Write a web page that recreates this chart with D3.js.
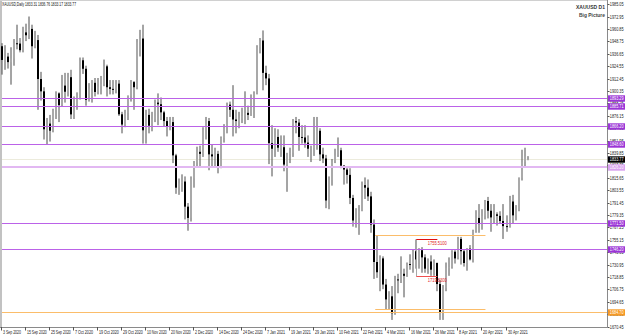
<!DOCTYPE html>
<html><head><meta charset="utf-8">
<script src="https://cdn.jsdelivr.net/npm/d3@7"></script>
<style>html,body{margin:0;padding:0;background:#fff;}svg{display:block;}</style>
</head><body>
<svg id="c" width="625" height="336"></svg>
<script>
const dates = ["2020-09-03","2020-09-04","2020-09-07","2020-09-08","2020-09-09","2020-09-10","2020-09-11","2020-09-14","2020-09-15","2020-09-16","2020-09-17","2020-09-18","2020-09-21","2020-09-22","2020-09-23","2020-09-24","2020-09-25","2020-09-28","2020-09-29","2020-09-30",
"2020-10-01","2020-10-02","2020-10-05","2020-10-06","2020-10-07","2020-10-08","2020-10-09","2020-10-12","2020-10-13","2020-10-14","2020-10-15","2020-10-16","2020-10-19","2020-10-20","2020-10-21","2020-10-22","2020-10-23","2020-10-26","2020-10-27","2020-10-28","2020-10-29","2020-10-30",
"2020-11-02","2020-11-03","2020-11-04","2020-11-05","2020-11-06","2020-11-09","2020-11-10","2020-11-11","2020-11-12","2020-11-13","2020-11-16","2020-11-17","2020-11-18","2020-11-19","2020-11-20","2020-11-23","2020-11-24","2020-11-25","2020-11-26","2020-11-27","2020-11-30",
"2020-12-01","2020-12-02","2020-12-03","2020-12-04","2020-12-07","2020-12-08","2020-12-09","2020-12-10","2020-12-11","2020-12-14","2020-12-15","2020-12-16","2020-12-17","2020-12-18","2020-12-21","2020-12-22","2020-12-23","2020-12-24","2020-12-28","2020-12-29","2020-12-30","2020-12-31",
"2021-01-04","2021-01-05","2021-01-06","2021-01-07","2021-01-08","2021-01-11","2021-01-12","2021-01-13","2021-01-14","2021-01-15","2021-01-18","2021-01-19","2021-01-20","2021-01-21","2021-01-22","2021-01-25","2021-01-26","2021-01-27","2021-01-28","2021-01-29",
"2021-02-01","2021-02-02","2021-02-03","2021-02-04","2021-02-05","2021-02-08","2021-02-09","2021-02-10","2021-02-11","2021-02-12","2021-02-15","2021-02-16","2021-02-17","2021-02-18","2021-02-19","2021-02-22","2021-02-23","2021-02-24","2021-02-25","2021-02-26",
"2021-03-01","2021-03-02","2021-03-03","2021-03-04","2021-03-05","2021-03-08","2021-03-09","2021-03-10","2021-03-11","2021-03-12","2021-03-15","2021-03-16","2021-03-17","2021-03-18","2021-03-19","2021-03-22","2021-03-23","2021-03-24","2021-03-25","2021-03-26","2021-03-29","2021-03-30","2021-03-31",
"2021-04-01","2021-04-05","2021-04-06","2021-04-07","2021-04-08","2021-04-09","2021-04-12","2021-04-13","2021-04-14","2021-04-15","2021-04-16","2021-04-19","2021-04-20","2021-04-21","2021-04-22","2021-04-23","2021-04-26","2021-04-27","2021-04-28","2021-04-29","2021-04-30",
"2021-05-03","2021-05-04","2021-05-05","2021-05-06","2021-05-07","2021-05-10","2021-05-11"];

const opens = [1944.0,1930.6,1933.9,1928.5,1931.9,1946.9,1946.6,1940.1,1957.5,1954.7,1960.9,1944.0,1950.0,1912.0,1900.0,1863.0,1868.5,1861.6,1881.7,1898.0,
1886.6,1905.6,1899.6,1913.8,1877.5,1886.5,1893.5,1930.3,1922.0,1891.6,1902.6,1908.3,1899.4,1904.7,1907.0,1924.4,1904.0,1902.4,1902.0,1907.5,1877.6,1867.6,
1878.8,1895.5,1909.0,1904.0,1948.0,1951.5,1862.0,1877.0,1866.5,1872.6,1889.0,1887.4,1879.5,1871.0,1866.0,1870.0,1837.5,1806.0,1810.5,1812.0,1787.5,
1776.5,1815.0,1830.5,1841.0,1839.0,1862.5,1871.0,1838.5,1836.5,1839.0,1827.0,1854.5,1864.0,1887.0,1882.0,1872.5,1871.0,1873.5,1876.0,1879.0,1877.0,1893.0,
1898.0,1943.0,1949.6,1918.0,1912.6,1849.5,1844.0,1855.5,1845.0,1845.5,1828.5,1839.5,1840.0,1871.0,1869.5,1855.5,1855.0,1850.0,1844.0,1844.5,
1847.5,1861.5,1838.5,1834.5,1793.5,1813.5,1831.5,1837.5,1842.5,1827.5,1823.7,1818.5,1796.0,1774.0,1776.0,1783.5,1808.5,1806.0,1797.5,1770.0,
1733.5,1723.5,1737.0,1711.5,1697.0,1700.0,1683.5,1716.5,1716.0,1722.0,1720.0,1731.5,1731.0,1744.0,1736.0,1745.0,1738.0,1727.0,1734.0,1726.0,1732.5,1712.0,1684.0,
1708.0,1728.0,1728.5,1743.5,1737.0,1756.0,1744.0,1732.5,1746.5,1736.0,1763.5,1776.5,1770.5,1778.5,1793.0,1783.5,1777.0,1780.0,1778.5,1773.5,1768.5,
1768.0,1792.5,1779.0,1784.0,1815.5,1831.0,1833.31];
const highs = [1947.0,1945.0,1937.5,1943.0,1951.0,1965.0,1952.0,1963.0,1966.0,1973.0,1965.0,1959.0,1955.0,1919.0,1904.0,1874.0,1877.0,1883.0,1900.0,1899.0,
1916.0,1918.0,1918.0,1921.0,1895.0,1899.0,1933.0,1933.0,1925.0,1908.0,1911.0,1913.0,1913.0,1915.0,1931.0,1926.0,1911.0,1911.0,1911.0,1911.0,1880.0,1882.0,
1896.0,1911.0,1910.0,1951.0,1960.0,1965.0,1882.0,1883.0,1880.0,1892.0,1898.0,1894.0,1881.0,1875.0,1875.0,1875.0,1839.0,1815.0,1819.0,1817.0,1791.0,
1817.0,1832.0,1846.0,1847.0,1865.0,1875.0,1874.0,1848.0,1845.0,1842.0,1856.0,1868.0,1889.0,1890.0,1906.0,1882.0,1880.0,1884.0,1900.0,1886.0,1897.0,1900.0,
1945.0,1952.0,1959.4,1925.0,1917.0,1867.0,1864.0,1863.0,1857.0,1857.0,1840.0,1845.0,1873.0,1875.0,1873.0,1867.0,1867.0,1857.0,1847.0,1875.0,
1875.0,1864.0,1845.0,1838.0,1817.0,1834.0,1844.0,1855.0,1845.0,1828.0,1826.0,1825.0,1799.0,1786.0,1789.0,1812.0,1816.0,1814.0,1802.0,1775.0,
1759.0,1740.0,1739.0,1717.0,1705.0,1710.0,1720.0,1722.0,1739.0,1727.0,1733.0,1741.0,1746.0,1755.5,1747.0,1748.0,1741.0,1737.0,1740.0,1736.0,1733.0,1716.0,1711.0,
1733.0,1738.0,1745.0,1745.0,1758.0,1758.0,1746.0,1747.0,1750.0,1765.0,1784.0,1790.0,1785.0,1794.0,1797.0,1790.0,1790.0,1782.0,1783.0,1790.0,1779.0,
1798.0,1799.0,1789.0,1816.0,1843.0,1845.0,1836.76];
const lows = [1916.3,1921.0,1922.2,1906.5,1925.0,1941.0,1938.0,1938.0,1949.0,1951.0,1932.0,1942.0,1882.0,1891.0,1853.0,1848.0,1851.0,1860.0,1873.0,1870.0,
1885.0,1889.0,1895.0,1873.0,1873.0,1882.0,1892.0,1917.0,1886.0,1890.0,1889.0,1895.0,1897.0,1897.0,1905.0,1895.0,1897.0,1897.0,1898.0,1876.0,1859.0,1865.0,
1872.0,1890.0,1882.0,1902.0,1934.0,1849.0,1849.0,1859.0,1861.0,1870.0,1867.0,1872.0,1866.0,1856.0,1862.0,1830.0,1800.0,1799.0,1802.0,1775.0,1764.0,
1773.0,1806.0,1826.0,1826.0,1836.0,1853.0,1823.0,1827.0,1826.0,1820.0,1825.0,1850.0,1859.0,1875.0,1856.0,1859.0,1864.0,1869.0,1868.0,1872.0,1876.0,1874.0,
1897.0,1937.0,1901.0,1906.0,1829.0,1817.0,1836.0,1841.0,1836.0,1822.0,1802.0,1830.0,1836.0,1859.0,1842.0,1849.0,1845.0,1836.0,1831.0,1837.0,
1843.0,1832.0,1830.0,1786.0,1785.0,1808.0,1830.0,1836.0,1825.0,1809.0,1810.0,1790.0,1768.0,1767.0,1760.0,1783.0,1795.0,1793.0,1762.0,1717.0,
1718.0,1705.0,1707.0,1687.0,1687.0,1677.0,1682.0,1703.0,1713.0,1699.0,1719.0,1726.0,1723.0,1727.0,1727.0,1723.0,1723.0,1722.0,1720.0,1720.0,1705.0,1677.0,1677.0,
1705.0,1720.0,1727.0,1732.0,1736.0,1731.0,1729.0,1725.0,1735.0,1733.0,1762.0,1762.0,1765.0,1775.0,1776.0,1763.0,1771.0,1769.0,1771.0,1756.0,1763.0,
1767.0,1771.0,1774.0,1783.0,1813.0,1826.0,1833.17];
const closes = [1930.6,1933.9,1928.5,1931.9,1946.9,1946.6,1940.1,1957.5,1954.7,1960.9,1944.0,1950.0,1912.0,1900.0,1863.0,1868.5,1861.6,1881.7,1898.0,1886.6,
1905.6,1899.6,1913.8,1877.5,1886.5,1893.5,1930.3,1922.0,1891.6,1902.6,1908.3,1899.4,1904.7,1907.0,1924.4,1904.0,1902.4,1902.0,1907.5,1877.6,1867.6,1878.8,
1895.5,1909.0,1904.0,1948.0,1951.5,1862.0,1877.0,1866.5,1872.6,1889.0,1887.4,1879.5,1871.0,1866.0,1870.0,1837.5,1806.0,1810.5,1812.0,1787.5,1776.5,
1815.0,1830.5,1841.0,1839.0,1862.5,1871.0,1838.5,1836.5,1839.0,1827.0,1854.5,1864.0,1887.0,1882.0,1872.5,1871.0,1873.5,1876.0,1879.0,1877.0,1893.0,1898.0,
1943.0,1949.6,1918.0,1912.6,1849.5,1844.0,1855.5,1845.0,1845.5,1828.5,1839.5,1840.0,1871.0,1869.5,1855.5,1855.0,1850.0,1844.0,1844.5,1847.5,
1861.5,1838.5,1834.5,1793.5,1813.5,1831.5,1837.5,1842.5,1827.5,1823.7,1818.5,1796.0,1774.0,1776.0,1783.5,1808.5,1806.0,1797.5,1770.0,1733.5,
1723.5,1737.0,1711.5,1697.0,1700.0,1683.5,1716.5,1716.0,1722.0,1720.0,1731.5,1731.0,1744.0,1736.0,1745.0,1738.0,1727.0,1734.0,1726.0,1732.5,1712.0,1684.0,1708.0,
1728.0,1728.5,1743.5,1737.0,1756.0,1744.0,1732.5,1746.5,1736.0,1763.5,1776.5,1770.5,1778.5,1793.0,1783.5,1777.0,1780.0,1778.5,1773.5,1768.5,1768.0,
1792.5,1779.0,1784.0,1815.5,1831.0,1836.5,1833.77];

const priceTicks = [1670.45,1682.55,1694.65,1706.75,1718.85,1730.95,1743.05,1755.15,1767.25,1779.35,1791.45,1803.55,1815.65,1827.75,1839.85,1851.95,1864.05,1876.15,1888.25,1900.35,1912.45,1924.55,1936.65,1948.75,1960.85,1972.95,1985.05];
const timeTickDates = ["2020-09-03","2020-09-15","2020-09-25","2020-10-07","2020-10-19","2020-10-29","2020-11-10","2020-11-20","2020-12-02","2020-12-14","2020-12-24","2021-01-07","2021-01-19","2021-01-29","2021-02-10","2021-02-22","2021-03-04","2021-03-16","2021-03-26","2021-04-08","2021-04-20","2021-04-30"];
const timeTickLabels = ["3 Sep 2020","15 Sep 2020","25 Sep 2020","7 Oct 2020","19 Oct 2020","29 Oct 2020","10 Nov 2020","20 Nov 2020","2 Dec 2020","14 Dec 2020","24 Dec 2020","7 Jan 2021","19 Jan 2021","29 Jan 2021","10 Feb 2021","22 Feb 2021","4 Mar 2021","16 Mar 2021","26 Mar 2021","8 Apr 2021","20 Apr 2021","30 Apr 2021"];

const purpleLevels = [1893.29,1885.71,1866.20,1848.60,1771.50,1746.20];
const lightLevel = 1826.20;
const orangeLevel = 1684.70;
const bidPrice = 1833.77;
const zoneLevels = [1759.50,1687.30];
const zoneFrom = "2021-02-26", zoneTo = "2021-04-21";
const redLevels = [1755.51,1719.83];
const redLabels = ["1755.5100","1719.8300"];
const redFrom = "2021-03-18", redTo = "2021-03-29";
const header = "XAUUSD,Daily  1833.31 1836.76 1833.17 1833.77";
const title = "XAUUSD D1", subtitle = "Big Picture";

const svg = d3.select("#c");
const plotL = 0, plotR = 607, plotT = 1, plotB = 327;
const x = d3.scaleLinear().domain([0,168]).range([1.5,506.5]);
const y = d3.scaleLinear().domain([1670.08,1988.13]).range([plotB, plotT]);
const index = new Map(dates.map((d,i)=>[d,i]));
const bars = dates.map((d,i)=>({i,o:opens[i],h:highs[i],l:lows[i],c:closes[i]}));
const FONT = "'Liberation Sans', Arial, sans-serif";
const PURPLE = "#bb62e8", PURPLE_BOX = "#9b35d6";

svg.append("rect").attr("width",625).attr("height",336).attr("fill","#fff");
svg.append("rect").attr("x",0).attr("y",0).attr("width",2).attr("height",plotB).attr("fill","#c2c2c2");
svg.append("line").attr("x1",0).attr("x2",plotR).attr("y1",0.5).attr("y2",0.5).attr("stroke","#d0d0d0");

const snap = v => Math.round(v) + 0.5;

svg.append("line").attr("x1",2).attr("x2",plotR).attr("y1",snap(y(bidPrice))).attr("y2",snap(y(bidPrice)))
  .attr("stroke","#ecebdc").attr("stroke-width",1);

const gC = svg.append("g");
const bx = d => Math.round(x(d.i)) - 1;
gC.selectAll("line.wick").data(bars).join("line").attr("class","wick")
  .attr("x1",d=>bx(d)+1).attr("x2",d=>bx(d)+1)
  .attr("y1",d=>y(d.h)).attr("y2",d=>y(d.l))
  .attr("stroke","#4a4a4a").attr("stroke-width",1);
gC.selectAll("rect.body").data(bars).join("rect").attr("class","body")
  .attr("x",d=>bx(d)).attr("width",2)
  .attr("y",d=>y(Math.max(d.o,d.c)))
  .attr("height",d=>Math.max(1, Math.abs(y(d.o)-y(d.c))))
  .attr("fill",d=>d.c>=d.o ? "#a9a9a9" : "#000");

svg.append("g").selectAll("line").data(purpleLevels).join("line")
  .attr("x1",2).attr("x2",plotR).attr("y1",d=>snap(y(d))).attr("y2",d=>snap(y(d)))
  .attr("stroke",PURPLE).attr("stroke-width",1);
svg.append("line").attr("x1",2).attr("x2",plotR).attr("y1",Math.round(y(lightLevel))).attr("y2",Math.round(y(lightLevel)))
  .attr("stroke","#e2b8f2").attr("stroke-width",2);
svg.append("line").attr("x1",2).attr("x2",plotR).attr("y1",snap(y(orangeLevel))).attr("y2",snap(y(orangeLevel)))
  .attr("stroke","#fbbd6a").attr("stroke-width",1);

svg.append("g").selectAll("line").data(zoneLevels).join("line")
  .attr("x1",x(index.get(zoneFrom))+1).attr("x2",x(index.get(zoneTo)))
  .attr("y1",d=>snap(y(d))).attr("y2",d=>snap(y(d)))
  .attr("stroke","#fbbd6a").attr("stroke-width",1);

const rx1 = x(index.get(redFrom)), rx2 = x(index.get(redTo));
svg.append("line").attr("x1",snap(rx1)).attr("x2",snap(rx1))
  .attr("y1",snap(y(redLevels[0]))).attr("y2",snap(y(redLevels[1])))
  .attr("stroke","#a8a8a8").attr("stroke-width",1);
svg.append("g").selectAll("line").data(redLevels).join("line")
  .attr("x1",rx1).attr("x2",rx2)
  .attr("y1",d=>snap(y(d))).attr("y2",d=>snap(y(d)))
  .attr("stroke",(d,i)=> i===0 ? "#e01010" : "#f05050").attr("stroke-width",1);
svg.append("g").selectAll("text").data(redLevels).join("text")
  .attr("x",rx1+11.5).attr("y",d=>y(d)+5.5)
  .attr("font-family",FONT).attr("font-size",4.6).attr("fill","#e02020")
  .attr("textLength",19).attr("lengthAdjust","spacingAndGlyphs")
  .text((d,i)=>redLabels[i]);

const gR = svg.append("g").attr("transform",`translate(${plotR+0.5},0)`);
gR.append("line").attr("x1",0).attr("x2",0).attr("y1",0).attr("y2",plotB+0.5).attr("stroke","#8a8a8a");
const rt = gR.selectAll("g.t").data(priceTicks).join("g").attr("class","t")
  .attr("transform",d=>`translate(0,${snap(y(d))})`);
rt.append("line").attr("x1",0).attr("x2",2).attr("stroke","#555");
rt.append("text").attr("x",2.3).attr("dy","0.35em")
  .attr("font-family",FONT).attr("font-size",4.8).attr("fill","#222")
  .attr("textLength",13.8).attr("lengthAdjust","spacingAndGlyphs")
  .text(d=>d3.format(".2f")(d));

const gB = svg.append("g");
gB.append("line").attr("x1",0).attr("x2",plotR+0.5).attr("y1",plotB+0.5).attr("y2",plotB+0.5).attr("stroke","#8a8a8a");
const bt = gB.selectAll("g.t").data(timeTickDates).join("g").attr("class","t")
  .attr("transform",d=>`translate(${snap(x(index.get(d)))-1},${plotB})`);
bt.append("line").attr("y1",0).attr("y2",3.5).attr("stroke","#555");
bt.append("text").attr("x",1.5).attr("y",7)
  .attr("font-family",FONT).attr("font-size",5).attr("fill","#222")
  .attr("textLength",(d,i)=>timeTickLabels[i].length*1.8).attr("lengthAdjust","spacingAndGlyphs")
  .text((d,i)=>timeTickLabels[i]);

function tag(price, fill, txtColor){
  const yy = snap(y(price));
  const g = svg.append("g").attr("transform",`translate(${plotR+1},${yy})`);
  g.append("rect").attr("x",0).attr("y",-3.2).attr("width",18).attr("height",6.4).attr("fill",fill);
  g.append("text").attr("x",1.8).attr("dy","0.35em").attr("font-family",FONT).attr("font-size",4.8)
    .attr("fill",txtColor).attr("textLength",13.8).attr("lengthAdjust","spacingAndGlyphs")
    .text(d3.format(".2f")(price));
}
purpleLevels.forEach(p=>tag(p,PURPLE_BOX,"#fff"));
tag(lightLevel,"#d9a3ef","#fff");
tag(bidPrice,"#000","#fff");
tag(orangeLevel,"#f79a24","#fff");

svg.append("text").attr("x",2).attr("y",5.5).attr("font-family",FONT).attr("font-size",4.6).attr("fill","#111")
  .attr("textLength",74).attr("lengthAdjust","spacingAndGlyphs").text(header);
svg.append("text").attr("x",576).attr("y",9.3).attr("font-family",FONT).attr("font-size",6).attr("font-weight","bold").attr("fill","#333")
  .attr("textLength",29).attr("lengthAdjust","spacingAndGlyphs").text(title);
svg.append("text").attr("x",579).attr("y",17.2).attr("font-family",FONT).attr("font-size",5).attr("font-weight","bold").attr("fill","#444")
  .attr("textLength",26).attr("lengthAdjust","spacingAndGlyphs").text(subtitle);
</script>
</body></html>
